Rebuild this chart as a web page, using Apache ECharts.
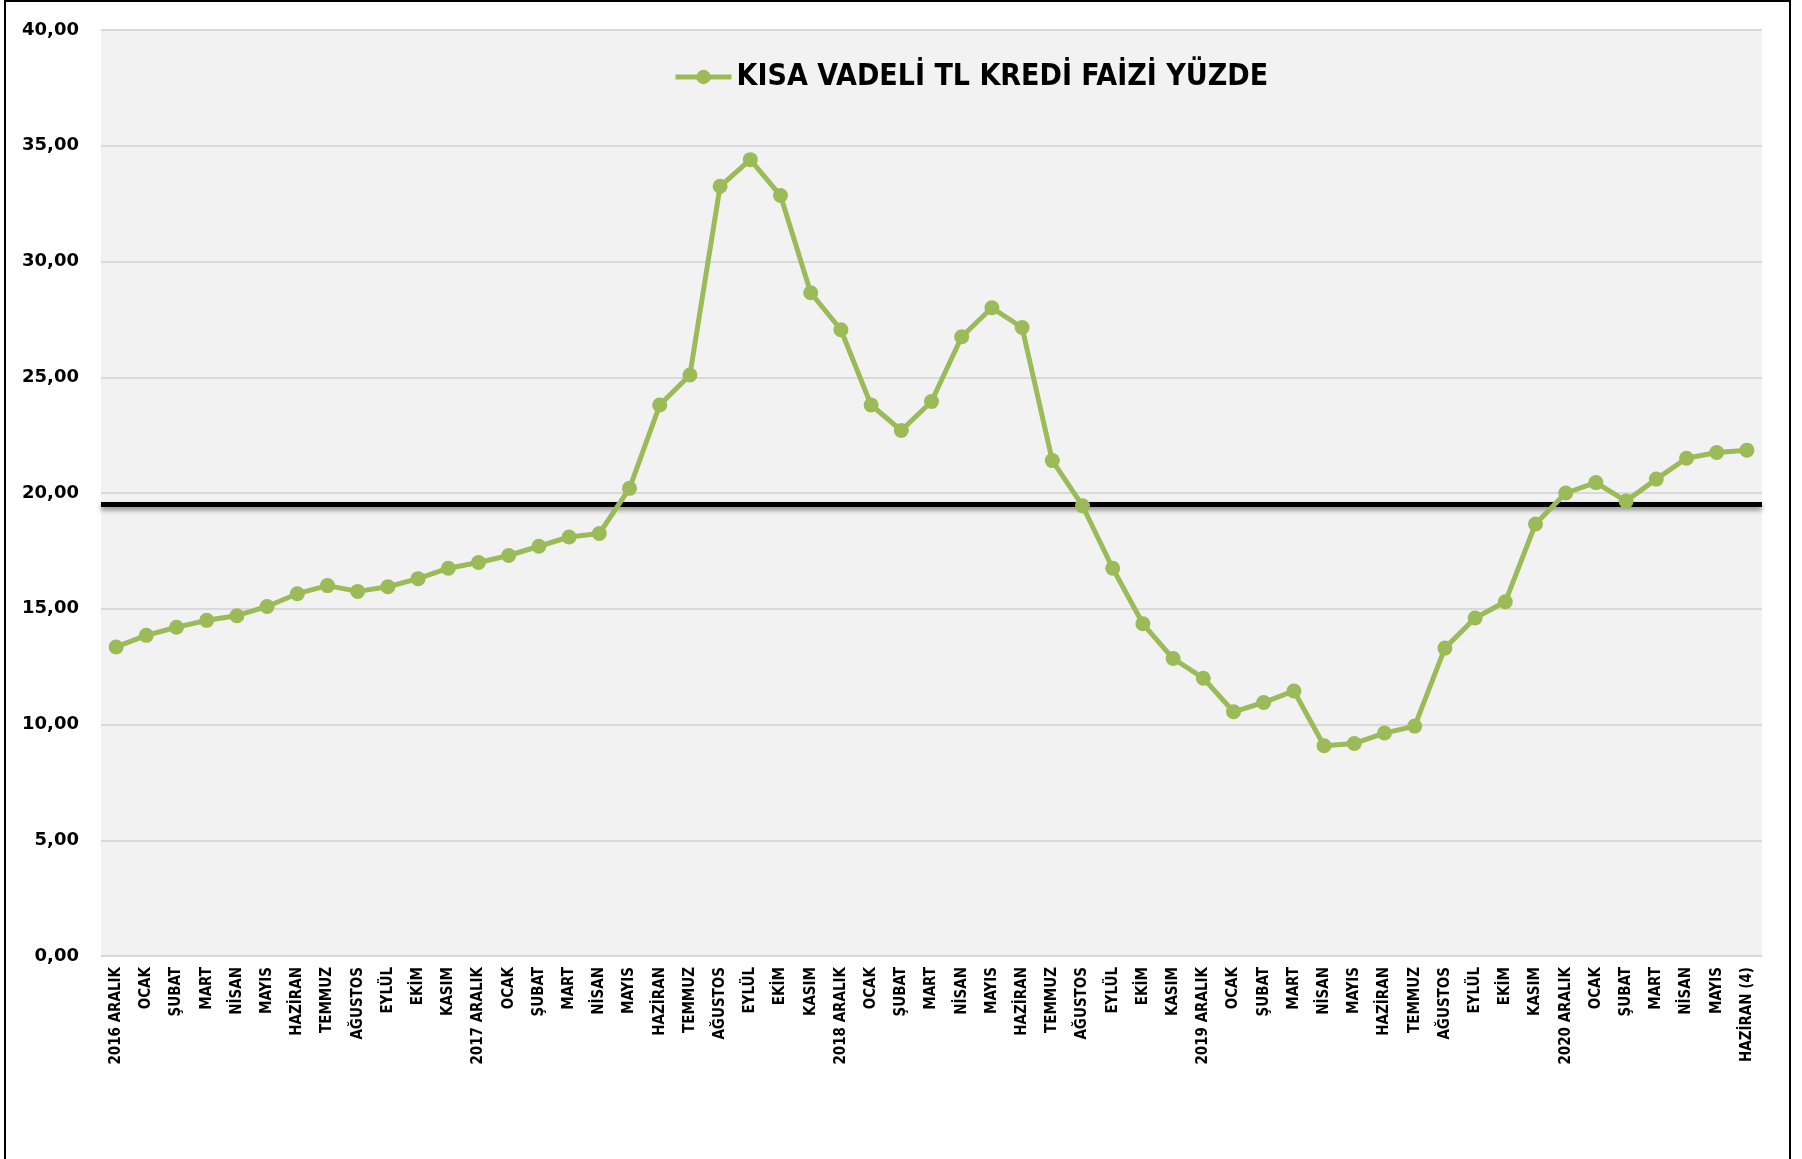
<!DOCTYPE html>
<html>
<head>
<meta charset="utf-8">
<title>Kısa Vadeli TL Kredi Faizi</title>
<script src="https://cdn.jsdelivr.net/npm/echarts@6/dist/echarts.min.js"></script>
<style>
  html, body { margin: 0; padding: 0; background: #fff; }
  #myChart { width: 1802px; height: 1159px; }
</style>
</head>
<body>
<div id="myChart"></div>
<script>
// aylar (x ekseni)
const months = [
  "2016 ARALIK", "OCAK", "ŞUBAT", "MART", "NİSAN", "MAYIS", "HAZİRAN", "TEMMUZ", "AĞUSTOS", "EYLÜL", "EKİM", "KASIM",
  "2017 ARALIK", "OCAK", "ŞUBAT", "MART", "NİSAN", "MAYIS", "HAZİRAN", "TEMMUZ", "AĞUSTOS", "EYLÜL", "EKİM", "KASIM",
  "2018 ARALIK", "OCAK", "ŞUBAT", "MART", "NİSAN", "MAYIS", "HAZİRAN", "TEMMUZ", "AĞUSTOS", "EYLÜL", "EKİM", "KASIM",
  "2019 ARALIK", "OCAK", "ŞUBAT", "MART", "NİSAN", "MAYIS", "HAZİRAN", "TEMMUZ", "AĞUSTOS", "EYLÜL", "EKİM", "KASIM",
  "2020 ARALIK", "OCAK", "ŞUBAT", "MART", "NİSAN", "MAYIS", "HAZİRAN (4)"
];

// kısa vadeli TL kredi faizi (%)
const rates = [
  13.35, 13.85, 14.2, 14.5, 14.7, 15.1, 15.65, 16.0, 15.75, 15.95, 16.3, 16.75,
  17.0, 17.3, 17.7, 18.1, 18.25, 20.2, 23.8, 25.1, 33.25, 34.4, 32.85, 28.65,
  27.05, 23.8, 22.7, 23.95, 26.75, 28.0, 27.15, 21.4, 19.45, 16.75, 14.35, 12.85,
  12.0, 10.55, 10.95, 11.45, 9.08, 9.18, 9.63, 9.93, 13.3, 14.6, 15.3, 18.66,
  20.0, 20.45, 19.65, 20.6, 21.5, 21.75, 21.85
];

// yatay referans çizgisi
const refLevel = 19.53;

const yTicks = [0, 40, 5]; // min, max, aralık

let myChart = echarts.init(document.getElementById('myChart'));
let option = {
  backgroundColor: '#ffffff',
  animation: false,
  graphic: [
    {
      type: 'rect',
      shape: { x: 5, y: 1, width: 1785, height: 1200 },
      style: { fill: 'none', stroke: '#000', lineWidth: 2 },
      z: 100
    }
  ],
  legend: {
    left: 668,
    top: 57,
    itemWidth: 56,
    itemHeight: 18,
    itemGap: 4,
    lineStyle: { width: 5 },
    textStyle: {
      fontFamily: '"Liberation Sans Narrow", "DejaVu Sans Condensed", sans-serif',
      fontWeight: 'bold',
      fontSize: 30,
      color: '#000'
    },
    data: ['KISA VADELİ TL KREDİ FAİZİ YÜZDE']
  },
  grid: {
    left: 101,
    right: 40,
    top: 30,
    bottom: 203,
    show: true,
    backgroundColor: '#F2F2F2',
    borderWidth: 0
  },
  xAxis: {
    type: 'category',
    data: months,
    boundaryGap: true,
    axisLine: { show: false },
    axisTick: { show: false },
    axisLabel: {
      rotate: 90,
      interval: 0,
      margin: 11,
      fontFamily: '"Liberation Sans Narrow", "DejaVu Sans Condensed", sans-serif',
      fontWeight: 'bold',
      fontSize: 15,
      color: '#000'
    }
  },
  yAxis: {
    type: 'value',
    min: yTicks[0],
    max: yTicks[1],
    interval: yTicks[2],
    axisLine: { show: false },
    axisTick: { show: false },
    splitLine: { lineStyle: { color: '#D9D9D9', width: 2 } },
    axisLabel: {
      margin: 22,
      fontFamily: '"DejaVu Sans", sans-serif',
      fontWeight: 'bold',
      fontSize: 18,
      color: '#000',
      formatter: v => v.toFixed(2).replace('.', ',')
    }
  },
  series: [
    {
      name: 'KISA VADELİ TL KREDİ FAİZİ YÜZDE',
      type: 'line',
      data: rates,
      symbol: 'circle',
      symbolSize: 15,
      lineStyle: { color: '#9BBB59', width: 5 },
      itemStyle: { color: '#9BBB59' },
      z: 3,
      markLine: {
        silent: true,
        symbol: 'none',
        label: { show: false },
        lineStyle: {
          color: '#000',
          type: 'solid',
          width: 5,
          shadowColor: 'rgba(0,0,0,0.45)',
          shadowBlur: 5,
          shadowOffsetY: 3
        },
        data: [{ yAxis: refLevel }],
        z: 2
      }
    }
  ]
};
myChart.setOption(option);

window.addEventListener("resize", () => {
  myChart.resize();
});
</script>
</body>
</html>
